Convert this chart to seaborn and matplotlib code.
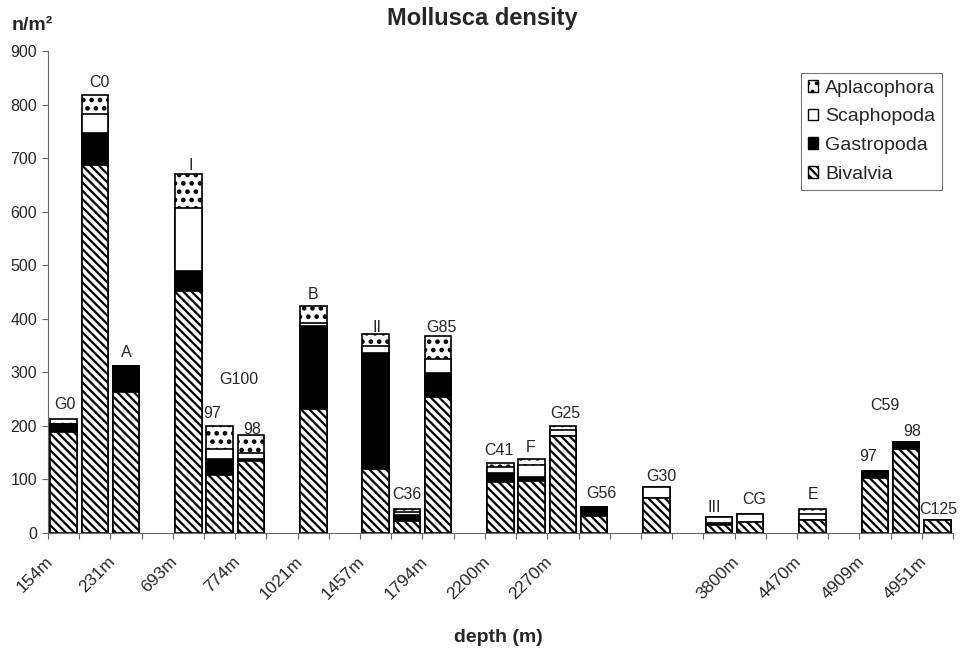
import matplotlib
matplotlib.use("Agg")
import matplotlib.pyplot as plt
import matplotlib.transforms as mtransforms
from matplotlib.patches import Patch
import numpy as np
import pandas as pd
import seaborn as sns

# Stations in plotting order (empty slots keep the depth grouping apart)
axis_order = ["G0", "C0", "A", "gap1", "I", "G100/97", "G100/98", "gap2", "B", "gap3",
              "II", "C36", "G85", "gap4", "C41", "F", "G25", "G56", "gap5", "G30",
              "gap6", "III", "CG", "gap7", "E", "gap8", "C59/97", "C59/98", "C125"]
stations = ["G0", "C0", "A", "I", "G100/97", "G100/98", "B", "II", "C36", "G85",
            "C41", "F", "G25", "G56", "G30", "III", "CG", "E", "C59/97", "C59/98", "C125"]
bar_labels = ["G0", "C0", "A", "I", "97", "98", "B", "II", "C36", "G85",
              "C41", "F", "G25", "G56", "G30", "III", "CG", "E", "97", "98", "C125"]
group_labels = {"G100": ("G100/97", "G100/98"), "C59": ("C59/97", "C59/98")}

# Densities (individuals per m²)
bivalvia    = [188, 688, 264, 452, 109, 134, 231, 119, 22, 254, 96, 97, 181, 32, 65, 15, 20, 24, 102, 156, 25]
gastropoda  = [16, 58, 48, 37, 30, 4, 156, 217, 11, 45, 16, 7, 0, 17, 0, 3, 0, 0, 14, 13, 0]
scaphopoda  = [0, 36, 0, 117, 18, 12, 6, 13, 7, 25, 12, 23, 12, 0, 21, 12, 15, 12, 0, 0, 0]
aplacophora = [9, 36, 0, 65, 43, 33, 31, 23, 4, 44, 7, 11, 7, 0, 0, 0, 0, 8, 0, 0, 0]

depth_labels = ["154m", "231m", "693m", "774m", "1021m", "1457m", "1794m", "2200m",
                "2270m", "", "", "3800m", "4470m", "4909m", "4951m"]
y_ticks = [0, 100, 200, 300, 400, 500, 600, 700, 800, 900]

# Label nudges in pixels (dx, dy above bar top)
label_nudge = [(1, 14), (5, 12), (0, 13), (2, 8), (-8, 12), (1, 5), (0, 11), (1, 6),
               (0, 15), (3, 8), (-2, 12), (-1, 12), (2, 12), (7, 13), (5, 10), (-5, 9),
               (4, 15), (0, 15), (-7, 14), (6, 11), (1, 10)]
group_nudge = {"G100": (4, 46), "C59": (-6, 37)}

sns.set_theme(style="white")
plt.rcParams["font.family"] = ["Liberation Sans", "DejaVu Sans"]
plt.rcParams["hatch.linewidth"] = 1.6
plt.rcParams["hatch.color"] = "black"

df = pd.DataFrame({"station": stations, "Bivalvia": bivalvia, "Gastropoda": gastropoda,
                   "Scaphopoda": scaphopoda, "Aplacophora": aplacophora})
stack_cols = ["Bivalvia", "Gastropoda", "Scaphopoda", "Aplacophora"]
cum = df[stack_cols].cumsum(axis=1)
cum["station"] = df["station"]

styles = {
    "Aplacophora": dict(color="white", hatch=".."),
    "Scaphopoda": dict(color="white", hatch=None),
    "Gastropoda": dict(color="black", hatch=None),
    "Bivalvia": dict(color="white", hatch="\\\\\\\\"),
}
dot_linewidth = 2.1

fig = plt.figure(figsize=(9.63, 6.53), dpi=100)
ax = fig.add_axes([48 / 963, 1 - 533 / 653, (953 - 48) / 963, (533 - 51) / 653])

# Draw cumulative totals from the top layer down so each lower layer covers the rest
for taxon in ["Aplacophora", "Scaphopoda", "Gastropoda", "Bivalvia"]:
    st = styles[taxon]
    n_before = len(ax.patches)
    sns.barplot(data=cum, x="station", y=taxon, order=axis_order, color=st["color"],
                saturation=1, width=0.85, edgecolor="black", linewidth=1.2,
                hatch=st["hatch"], errorbar=None, ax=ax)
    if st["hatch"] == ".." :
        for p in ax.patches[n_before:]:
            if hasattr(p, "set_hatch_linewidth"):
                p.set_hatch_linewidth(dot_linewidth)

ax.set_xlim(-0.5, len(axis_order) - 0.5)
ax.set_ylim(0, 900)
ax.set_yticks(y_ticks)
ax.set_xlabel("")
ax.set_ylabel("")

# Tick marks on category boundaries, depth labels on every other category
ax.set_xticks(np.arange(-0.5, len(axis_order), 1.0))
ax.set_xticklabels([])
ax.set_xticks(np.arange(0, len(axis_order), 2), minor=True)
ax.set_xticklabels(depth_labels, minor=True, rotation=45, ha="right", fontsize=12.5)
ax.tick_params(axis="x", which="major", direction="out", length=4, width=0.8,
               color="#666666", bottom=True)
ax.tick_params(axis="x", which="minor", length=0, pad=15)
ax.tick_params(axis="y", direction="out", length=4, width=0.8, color="#666666",
               labelsize=11.5, pad=4, left=True)
shift = mtransforms.ScaledTranslation(-8 / 100, 0, fig.dpi_scale_trans)
for lab in ax.get_xticklabels(minor=True):
    lab.set_transform(lab.get_transform() + shift)

sns.despine(ax=ax)
for side in ["left", "bottom"]:
    ax.spines[side].set_color("#666666")
    ax.spines[side].set_linewidth(0.8)

# Station names above the bars
totals = cum.set_index("station")["Aplacophora"]
for st_name, text, (dx, dy) in zip(stations, bar_labels, label_nudge):
    xi = axis_order.index(st_name)
    ax.annotate(text, (xi, totals[st_name]), xytext=(dx, dy), textcoords="offset pixels",
                ha="center", va="center", fontsize=11.5)
for name, pair in group_labels.items():
    xi = np.mean([axis_order.index(p) for p in pair])
    top = max(totals[p] for p in pair)
    dx, dy = group_nudge[name]
    ax.annotate(name, (xi, top), xytext=(dx, dy), textcoords="offset pixels",
                ha="center", va="center", fontsize=11.5)

handles = [Patch(facecolor=styles[t]["color"], edgecolor="black", hatch=styles[t]["hatch"],
                 linewidth=1.0, label=t)
           for t in ["Aplacophora", "Scaphopoda", "Gastropoda", "Bivalvia"]]
leg = ax.legend(handles=handles, loc="upper right", bbox_to_anchor=(942 / 963, 1 - 73 / 653),
                bbox_transform=fig.transFigure, borderaxespad=0, fontsize=14,
                handlelength=0.55, handleheight=0.55, handletextpad=0.35,
                labelspacing=0.6, borderpad=0.35, fancybox=False, frameon=True)
leg.get_frame().set_edgecolor("#555555")
leg.get_frame().set_linewidth(0.8)

fig.text(482 / 963, 1 - 18 / 653, "Mollusca density", ha="center", va="center",
         fontsize=17, fontweight="bold")
fig.text(32 / 963, 1 - 25 / 653, "n/m²", ha="center", va="center",
         fontsize=14, fontweight="bold")
fig.text(498 / 963, 1 - 638 / 653, "depth (m)", ha="center", va="center",
         fontsize=14, fontweight="bold")

fig.savefig("out.png", dpi=100, facecolor="white")
